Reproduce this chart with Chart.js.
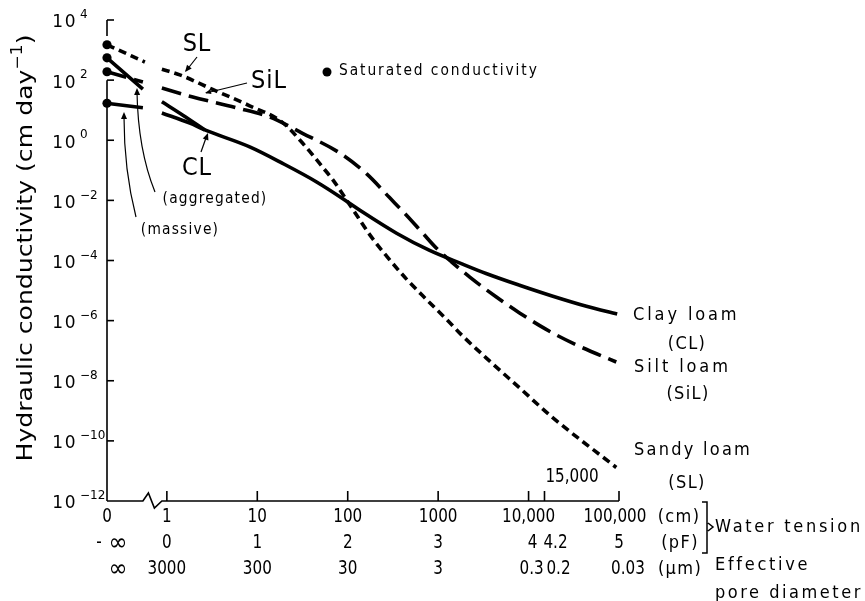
<!DOCTYPE html>
<html>
<head>
<meta charset="utf-8">
<script src="https://cdn.jsdelivr.net/npm/chart.js@4.4.0/dist/chart.umd.min.js"></script>
<style>
  html, body { margin: 0; padding: 0; background: #fff; }
  #wrap { width: 865px; height: 601px; }
</style>
</head>
<body>
<div id="wrap"><canvas id="chart" width="865" height="601"></canvas></div>
<script>
// Water tension axis is linear in pF (log10 of tension in cm).
// "0 cm" (pF = -inf) is drawn left of the axis break at this pF position.
const ZERO_CM = -0.662;

// Sandy loam (SL): pF -> K (cm/day), null = axis break
const slPF = [ZERO_CM, -0.243, -0.15, -0.055, 0.143, 0.5, 0.916, 1.27, 1.50, 1.72, 1.836, 2.046, 2.245, 2.43, 2.65, 2.875, 3.10, 3.27, 3.53, 3.90, 4.26, 4.97];
const slK  = [1.5e3, 4.0e2, null, 2.3e2, 1.5e2, 50, 14, 4.1, 0.81, 0.13, 0.048, 5.6e-3, 7.1e-4, 1.4e-4, 2.4e-5, 4.9e-6, 1.05e-6, 3.1e-7, 5.8e-8, 5.8e-9, 6.2e-10, 1.3e-11];

// Silt loam (SiL)
const silPF = [ZERO_CM, -0.265, -0.15, -0.055, 0.276, 0.773, 1.137, 1.50, 1.91, 2.21, 2.46, 2.65, 2.83, 2.985, 3.15, 3.35, 3.64, 3.90, 4.19, 4.53, 4.97];
const silK  = [190, 87, null, 55, 28, 12, 5.9, 1.7, 0.38, 0.076, 0.0126, 3.2e-3, 8.1e-4, 2.5e-4, 8.9e-5, 2.8e-5, 6.2e-6, 1.8e-6, 5.2e-7, 1.55e-7, 4.2e-8];

// Clay loam (CL), massive -> main curve
const clPF = [ZERO_CM, -0.265, -0.15, -0.055, 0.254, 0.42, 0.916, 1.28, 1.656, 2.0, 2.165, 2.54, 2.90, 3.27, 3.53, 3.90, 4.26, 4.64, 4.98];
const clK  = [17, 12, null, 8.1, 3.7, 2.2, 0.60, 0.17, 0.041, 8.9e-3, 4.1e-3, 8.1e-4, 2.2e-4, 7.6e-5, 3.7e-5, 1.5e-5, 6.6e-6, 3.0e-6, 1.66e-6];

// Clay loam (CL), aggregated branch joining the main curve
const claPF = [ZERO_CM, -0.265, -0.15, -0.055, 0.177, 0.42];
const claK  = [550, 50, null, 19, 6.8, 2.2];

// Saturated conductivity dots at 0 cm tension
const satK = [1.5e3, 550, 190, 17];

// Axis tick labels
const yTickExp = [4, 2, 0, -2, -4, -6, -8, -10, -12];
const xTickPF = [ZERO_CM, 0, 1, 2, 3, 4, 4.176, 5];
const cmLabels = ['0', '1', '10', '100', '1000', '10,000', '', '100,000'];
const pfLabels = ['-', '0', '1', '2', '3', '4', '4.2', '5'];
const umLabels = ['', '3000', '300', '30', '3', '0.3', '0.2', '0.03'];

const FONT = "'DejaVu Sans', sans-serif";

function pts(xs, ys) {
    return xs.map((x, i) => ({ x: x, y: ys[i] }));
}

function txt(ctx, s, x, y, size, align, opts) {
    opts = opts || {};
    ctx.save();
    ctx.font = size + 'px ' + FONT;
    ctx.letterSpacing = (opts.spacing || 0) + 'px';
    ctx.textAlign = align || 'center';
    ctx.textBaseline = 'middle';
    ctx.fillStyle = '#000';
    ctx.translate(x, y);
    ctx.scale(opts.sx || 1, 1);
    ctx.fillText(s, 0, 0);
    ctx.restore();
}

function arrowHead(ctx, x1, y1, x2, y2, len, wid) {
    const a = Math.atan2(y2 - y1, x2 - x1);
    ctx.beginPath();
    ctx.moveTo(x2, y2);
    ctx.lineTo(x2 - len * Math.cos(a) + wid * Math.sin(a), y2 - len * Math.sin(a) - wid * Math.cos(a));
    ctx.lineTo(x2 - len * Math.cos(a) - wid * Math.sin(a), y2 - len * Math.sin(a) + wid * Math.cos(a));
    ctx.closePath();
    ctx.fill();
}

const axesPlugin = {
    id: 'axesPlugin',
    beforeDatasetsDraw(chart) {
        const ctx = chart.ctx;
        const xs = chart.scales.x, ys = chart.scales.y;
        const left = xs.getPixelForValue(ZERO_CM);
        const bottom = ys.getPixelForValue(1e-12);
        const top = ys.getPixelForValue(1e4);
        ctx.save();
        ctx.strokeStyle = '#000';
        ctx.lineWidth = 1.6;
        // y axis (open between the 10^4 tick and the 10^2 tick, around the dots)
        const y2 = ys.getPixelForValue(1e2);
        ctx.beginPath();
        ctx.moveTo(left, top); ctx.lineTo(left, top + 16);
        ctx.moveTo(left, y2); ctx.lineTo(left, bottom);
        ctx.stroke();
        // y ticks inward
        yTickExp.forEach(e => {
            if (e === -12) return;
            const y = ys.getPixelForValue(Math.pow(10, e));
            ctx.beginPath();
            ctx.moveTo(left, y); ctx.lineTo(left + 7, y);
            ctx.stroke();
        });
        // x axis with break
        const b0 = xs.getPixelForValue(-0.265);
        const b1 = xs.getPixelForValue(-0.055);
        const right = xs.getPixelForValue(5);
        const bm = (b0 + b1) / 2;
        ctx.beginPath();
        ctx.moveTo(left, bottom); ctx.lineTo(b0, bottom);
        ctx.lineTo(bm - 4, bottom - 8);
        ctx.lineTo(bm + 2, bottom + 7);
        ctx.lineTo(b1, bottom);
        ctx.lineTo(right, bottom);
        ctx.stroke();
        xTickPF.forEach(v => {
            if (v === ZERO_CM) return;
            const x = xs.getPixelForValue(v);
            ctx.beginPath();
            ctx.moveTo(x, bottom); ctx.lineTo(x, bottom - 10);
            ctx.stroke();
        });
        ctx.restore();
    },
    afterDraw(chart) {
        const ctx = chart.ctx;
        const xs = chart.scales.x, ys = chart.scales.y;

        // y tick labels 10^n
        yTickExp.forEach(e => {
            const y = ys.getPixelForValue(Math.pow(10, e));
            txt(ctx, '10', 77, y + 3, 17, 'right', { spacing: 1.5 });
            txt(ctx, (e < 0 ? '\u2212' : '') + Math.abs(e), 80, y - 5, 12, 'left');
        });

        // y axis title
        ctx.save();
        ctx.translate(26, 248);
        ctx.rotate(-Math.PI / 2);
        ctx.font = '22px ' + FONT;
        ctx.fillStyle = '#000';
        ctx.textBaseline = 'middle';
        const t1 = 'Hydraulic conductivity (cm day', t2 = '\u22121', t3 = ')';
        const w1 = ctx.measureText(t1).width;
        ctx.font = '15px ' + FONT;
        const w2 = ctx.measureText(t2).width;
        ctx.font = '22px ' + FONT;
        const w3 = ctx.measureText(t3).width;
        const W = w1 + w2 + w3;
        const sx = 427 / W;
        ctx.scale(sx, 1);
        ctx.textAlign = 'left';
        ctx.fillText(t1, -W / 2, 0);
        ctx.font = '15px ' + FONT;
        ctx.fillText(t2, -W / 2 + w1, -8);
        ctx.font = '22px ' + FONT;
        ctx.fillText(t3, -W / 2 + w1 + w2, 0);
        ctx.restore();

        // x tick labels, three rows
        const nudge1 = { 7: -4 };
        const nudge2 = { 0: -8, 5: 4, 6: 11 };
        const nudge3 = { 5: 3, 6: 14, 7: 9 };
        xTickPF.forEach((v, i) => {
            const x = xs.getPixelForValue(v);
            if (cmLabels[i]) txt(ctx, cmLabels[i], x + (nudge1[i] || 0), 517, 19, 'center', { sx: 0.8 });
            if (pfLabels[i]) txt(ctx, pfLabels[i], x + (nudge2[i] || 0), 543, 19, 'center', { sx: 0.8 });
            if (umLabels[i]) txt(ctx, umLabels[i], x + (nudge3[i] || 0), 569, 19, 'center', { sx: 0.8 });
        });
        // infinity signs for 0 cm tension
        const x0 = xs.getPixelForValue(ZERO_CM);
        txt(ctx, '\u221e', x0 + 11, 544, 24, 'center', { sx: 0.95 });
        txt(ctx, '\u221e', x0 + 11, 570, 24, 'center', { sx: 0.95 });
        txt(ctx, '15,000', 572, 477, 19, 'center', { sx: 0.8 });
        txt(ctx, '(cm)', 679, 517, 18, 'center', { sx: 0.9, spacing: 1.5 });
        txt(ctx, '(pF)', 680, 543, 18, 'center', { sx: 0.9, spacing: 1.5 });
        txt(ctx, '(\u00b5m)', 680, 569, 18, 'center', { sx: 0.9, spacing: 1.5 });

        // bracket for water tension
        ctx.save();
        ctx.strokeStyle = '#000';
        ctx.lineWidth = 1.5;
        ctx.beginPath();
        ctx.moveTo(702, 502); ctx.lineTo(707, 502); ctx.lineTo(707, 553); ctx.lineTo(702, 553);
        ctx.moveTo(708, 523); ctx.lineTo(713, 527); ctx.lineTo(708, 531);
        ctx.stroke();
        ctx.restore();
        txt(ctx, 'Water tension', 715, 527, 18, 'left', { sx: 0.9, spacing: 3 });
        txt(ctx, 'Effective', 715, 565, 18, 'left', { sx: 0.9, spacing: 3 });
        txt(ctx, 'pore diameter', 715, 593, 18, 'left', { sx: 0.9, spacing: 2.8 });

        // curve names on the right
        txt(ctx, 'Clay loam', 633, 315, 18, 'left', { sx: 0.9, spacing: 3.2 });
        txt(ctx, '(CL)', 687, 344, 18, 'center', { sx: 0.9, spacing: 1.5 });
        txt(ctx, 'Silt loam', 634, 367, 18, 'left', { sx: 0.9, spacing: 3.2 });
        txt(ctx, '(SiL)', 688, 394, 18, 'center', { sx: 0.9, spacing: 1.5 });
        txt(ctx, 'Sandy loam', 634, 450, 18, 'left', { sx: 0.9, spacing: 2.5 });
        txt(ctx, '(SL)', 687, 483, 18, 'center', { sx: 0.9, spacing: 1.5 });

        // saturated conductivity key
        ctx.save();
        ctx.fillStyle = '#000';
        ctx.beginPath();
        ctx.arc(327, 72, 4.5, 0, Math.PI * 2);
        ctx.fill();
        ctx.restore();
        txt(ctx, 'Saturated conductivity', 339, 71, 15, 'left', { sx: 0.92, spacing: 2.1 });

        // in-plot labels and arrows
        txt(ctx, 'SL', 197, 44, 25, 'center', { sx: 0.9, spacing: 1 });
        txt(ctx, 'SiL', 269, 81, 25, 'center', { sx: 0.9, spacing: 1 });
        txt(ctx, 'CL', 197, 168, 25, 'center', { sx: 0.9, spacing: 1 });
        txt(ctx, '(aggregated)', 215, 199, 15, 'center', { sx: 0.92, spacing: 1.3 });
        txt(ctx, '(massive)', 180, 230, 15, 'center', { sx: 0.92, spacing: 1.3 });

        ctx.save();
        ctx.strokeStyle = '#000';
        ctx.fillStyle = '#000';
        ctx.lineWidth = 1.2;
        // SL
        ctx.beginPath(); ctx.moveTo(197, 57); ctx.lineTo(186, 71); ctx.stroke();
        arrowHead(ctx, 197, 57, 185, 72, 7, 3);
        // SiL
        ctx.beginPath(); ctx.moveTo(247, 83); ctx.lineTo(206, 93); ctx.stroke();
        arrowHead(ctx, 247, 83, 205, 93, 6, 2.5);
        // CL
        ctx.beginPath(); ctx.moveTo(201, 152); ctx.lineTo(207, 135); ctx.stroke();
        arrowHead(ctx, 201, 152, 208, 133, 7, 3);
        // aggregated
        ctx.beginPath(); ctx.moveTo(155, 192); ctx.quadraticCurveTo(138, 150, 137, 92); ctx.stroke();
        arrowHead(ctx, 137.2, 100, 137, 88, 7, 3);
        // massive
        ctx.beginPath(); ctx.moveTo(136, 217); ctx.quadraticCurveTo(124, 170, 124, 117); ctx.stroke();
        arrowHead(ctx, 124, 125, 124, 112, 7, 3);
        ctx.restore();
    }
};

const lineStyle = {
    borderColor: '#000',
    borderWidth: 3.6,
    pointRadius: 0,
    fill: false,
    spanGaps: false,
    cubicInterpolationMode: 'monotone',
    clip: false
};

new Chart(document.getElementById('chart'), {
    type: 'line',
    data: {
        datasets: [
            Object.assign({ label: 'Sandy loam (SL)', data: pts(slPF, slK), borderDash: [8, 5] }, lineStyle),
            Object.assign({ label: 'Silt loam (SiL)', data: pts(silPF, silK), borderDash: [20, 8] }, lineStyle),
            Object.assign({ label: 'Clay loam (CL)', data: pts(clPF, clK) }, lineStyle),
            Object.assign({ label: 'Clay loam aggregated', data: pts(claPF, claK) }, lineStyle),
            {
                type: 'scatter',
                label: 'Saturated conductivity',
                data: satK.map(k => ({ x: ZERO_CM, y: k })),
                pointRadius: 4.6,
                pointBackgroundColor: '#000',
                pointBorderWidth: 0,
                clip: false
            }
        ]
    },
    options: {
        responsive: false,
        devicePixelRatio: 1,
        animation: false,
        layout: { padding: { left: 107, top: 20, right: 246, bottom: 100 } },
        plugins: { legend: { display: false }, tooltip: { enabled: false } },
        scales: {
            x: { type: 'linear', min: ZERO_CM, max: 5, display: false },
            y: { type: 'logarithmic', min: 1e-12, max: 1e4, display: false }
        }
    },
    plugins: [axesPlugin]
});
</script>
</body>
</html>
